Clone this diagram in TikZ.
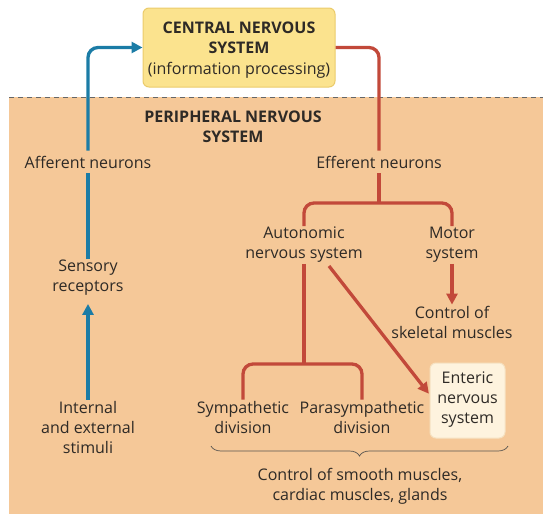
\documentclass[tikz,border=0pt]{standalone}
\usepackage{fontspec}
\setmainfont{Open Sans}
\usetikzlibrary{arrows.meta,decorations.pathreplacing,calc}
\definecolor{bgorange}{HTML}{F5C898}
\definecolor{nblue}{HTML}{1B7CA6}
\definecolor{nred}{HTML}{C2493A}
\definecolor{cnsfill}{HTML}{FBE38E}
\definecolor{cnsdraw}{HTML}{EBCB6B}
\definecolor{entfill}{HTML}{FEF3DE}
\definecolor{entdraw}{HTML}{F6E2C2}
\definecolor{txt}{HTML}{2E2A26}
\begin{document}
\begin{tikzpicture}[x=1pt,y=-1pt,
  lbl/.style={align=center,inner sep=2pt,text=txt,font=\fontsize{16}{20}\selectfont},
  hdr/.style={align=center,inner sep=0pt,text=txt,font=\fontsize{16}{19.5}\selectfont\bfseries},
  bluel/.style={draw=nblue,line width=3.3pt},
  redl/.style={draw=nred,line width=3.3pt},
  tip/.style={-{Triangle[length=11pt,width=11pt]}},
  bracestyle/.style={draw=txt!80,line width=0.7pt,decorate,decoration={brace,mirror,amplitude=10pt}}]
\useasboundingbox (0,0) rectangle (543,514);
\fill[bgorange] (9,97) rectangle (543,514);
\draw[gray!80!black,dashed,line width=0.8pt,dash pattern=on 5pt off 4pt] (9,97) -- (543,97);

% CNS box
\node[draw=cnsdraw,fill=cnsfill,line width=1pt,rounded corners=6pt,minimum width=192pt,minimum height=79pt,inner sep=0pt] (cns) at (239,47.5) {};
\node[hdr] (cnst) at (239,38) {CENTRAL NERVOUS\\SYSTEM};
\node[lbl,inner sep=0pt] (cnsp) at (239,70) {(information processing)};

\node[hdr] (pns) at (233,127) {PERIPHERAL NERVOUS\\SYSTEM};

\node[lbl,inner sep=5pt] (aff) at (88,162) {Afferent neurons};
\node[lbl,inner sep=5pt] (eff) at (379,162) {Efferent neurons};
\node[lbl,inner sep=1pt] (sens) at (88,278) {Sensory\\receptors};
\node[lbl,inner sep=1pt] (stim) at (88,427) {Internal\\and external\\stimuli};
\node[lbl,inner sep=1pt] (auto) at (304,245) {Autonomic\\nervous system};
\node[lbl,inner sep=1pt] (motor) at (452,245) {Motor\\system};
\node[lbl,inner sep=1pt] (skel) at (452,322) {Control of\\skeletal muscles};
\node[lbl,inner sep=1pt] (symp) at (243,417) {Sympathetic\\division};
\node[lbl,inner sep=1pt] (para) at (362,417) {Parasympathetic\\division};
\node[draw=entdraw,fill=entfill,line width=1pt,rounded corners=6pt,minimum width=75pt,minimum height=75pt,inner sep=0pt] (ent) at (467.5,400.5) {};
\node[lbl] (entt) at (467.5,400) {Enteric\\nervous\\system};
\node[lbl] (smooth) at (360,486) {Control of smooth muscles,\\cardiac muscles, glands};

\coordinate (br1) at (379,203);
\coordinate (br2) at (304,364);
\coordinate (dstart) at (329,266);
\coordinate (bl) at (211,446);
\coordinate (brr) at (508,446);

% blue afferent
\draw[bluel,rounded corners=10pt,tip] (aff.north) |- (cns.west);
\draw[bluel] (sens.north) -- (aff.south);
\draw[bluel,tip,shorten >=7pt] (stim.north) -- (sens.south);

% red efferent
\draw[redl,rounded corners=10pt] (cns.east) -| (eff.north);
\draw[redl] (eff.south) -- (br1);
\draw[redl,rounded corners=10pt] (auto.north) |- (br1) -| (motor.north);
\draw[redl,tip] (motor.south) -- (skel.north);
\draw[redl] (auto.south) -- (br2);
\draw[redl,rounded corners=10pt] (symp.north) |- (br2) -| (para.north);
\draw[redl,tip,shorten >=1pt] (dstart) -- ($(ent.west)+(0,-6)$);

% brace
\draw[bracestyle] (bl) -- (brr);
\end{tikzpicture}
\end{document}
